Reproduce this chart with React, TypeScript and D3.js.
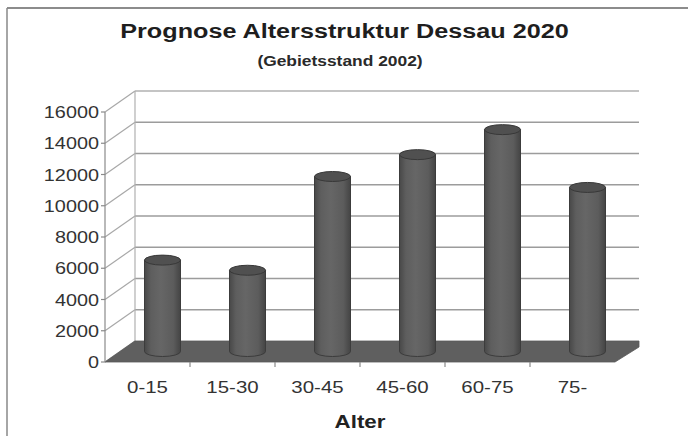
import React from "react";
import * as d3 from "d3";

const categories = ["0-15", "15-30", "30-45", "45-60", "60-75", "75-"];
const values = [5850, 5200, 11200, 12600, 14200, 10500];
const yTicks = [0, 2000, 4000, 6000, 8000, 10000, 12000, 14000, 16000];
const title = "Prognose Altersstruktur Dessau 2020";
const subtitle = "(Gebietsstand 2002)";
const xTitle = "Alter";

const SX = 1.24;
const FONT = "'Liberation Sans', Arial, sans-serif";

function SText(props: any) {
  const { x, y, anchor = "middle", size = 14, weight = "normal", fill = "#2a2a2a", sx = SX, children } = props;
  return (
    <text
      transform={`translate(${x},${y}) scale(${sx},1)`}
      textAnchor={anchor}
      fontSize={size}
      fontWeight={weight}
      fontFamily={FONT}
      fill={fill}
    >
      {children}
    </text>
  );
}

export default function App() {
  const W = 688;
  const H = 436;
  const DX = 30;
  const DY = -21;
  const x = d3.scaleBand<string>().domain(categories).range([105, 615]).padding(0);
  const y = d3.scaleLinear().domain([0, 16000]).range([362, 112]);
  const backRight = 639;
  const r = 18;
  const ry = 5;

  const floor = [
    [x.range()[0], y(0)],
    [x.range()[0] + DX, y(0) + DY],
    [backRight, y(0) + DY],
    [backRight, y(0) + DY + 6],
    [x.range()[1], y(0)],
  ];

  return (
    <svg width={W} height={H} style={{ position: "absolute", left: 0, top: 0, background: "#fff" }}>
      <defs>
        <linearGradient id="cyl" x1="0" x2="1" y1="0" y2="0">
          <stop offset="0%" stopColor="#484848" />
          <stop offset="18%" stopColor="#5e5e5e" />
          <stop offset="45%" stopColor="#666" />
          <stop offset="80%" stopColor="#5c5c5c" />
          <stop offset="100%" stopColor="#444" />
        </linearGradient>
      </defs>
      {/* frame */}
      <line x1={7} y1={8} x2={W} y2={8} stroke="#666" strokeWidth={1.5} />
      <line x1={7} y1={8} x2={7} y2={H} stroke="#888" strokeWidth={1.5} />

      <SText x={344.5} y={38} size={21} weight="bold" fill="#1e1e1e" sx={1.2}>{title}</SText>
      <SText x={340} y={65.5} size={14.5} weight="bold" fill="#2a2a2a" sx={1.2}>{subtitle}</SText>

      {/* back wall gridlines */}
      {yTicks.filter((t) => t > 0).map((t) => (
        <line key={"g" + t} x1={x.range()[0] + DX} x2={backRight} y1={y(t) + DY} y2={y(t) + DY}
          stroke={t === 16000 ? "#c4c4c4" : "#9c9c9c"} strokeWidth={t === 16000 ? 2 : 1.6} />
      ))}
      {/* side wall lines */}
      {yTicks.map((t) => (
        <line key={"s" + t} x1={x.range()[0]} y1={y(t)} x2={x.range()[0] + DX} y2={y(t) + DY}
          stroke="#a8a8a8" strokeWidth={1.2} />
      ))}
      <line x1={x.range()[0] + DX} x2={x.range()[0] + DX} y1={y(16000) + DY} y2={y(0) + DY} stroke="#b0b0b0" strokeWidth={1.2} />

      {/* floor */}
      <polygon points={floor.map((p) => p.join(",")).join(" ")} fill="#5f5f5f" stroke="#585858" strokeWidth={0.8} />

      {/* bars */}
      {categories.map((c, i) => {
        const cx = (x(c) as number) + x.bandwidth() / 2 + DX / 2;
        const yb = y(0) + DY / 2;
        const yt = y(values[i]) + DY / 2;
        const d = `M${cx - r},${yt} L${cx - r},${yb} A${r},${ry} 0 0 0 ${cx + r},${yb} L${cx + r},${yt} Z`;
        return (
          <g key={c}>
            <path d={d} fill="url(#cyl)" stroke="#3c3c3c" strokeWidth={1} />
            <ellipse cx={cx} cy={yt} rx={r} ry={ry} fill="#505050" stroke="#383838" strokeWidth={1} />
          </g>
        );
      })}

      {/* front y axis */}
      <line x1={x.range()[0]} x2={x.range()[0]} y1={y(0)} y2={y(16000)} stroke="#8a8a8a" strokeWidth={1.2} />
      {yTicks.map((t) => (
        <g key={"yt" + t}>
          <line x1={x.range()[0] - 4} x2={x.range()[0]} y1={y(t)} y2={y(t)} stroke="#8a8a8a" strokeWidth={1.2} />
          <SText x={99} y={y(t) + 6} anchor="end" size={16} fill="#333">{String(t)}</SText>
        </g>
      ))}
      {/* x axis ticks and labels */}
      {categories.slice(1).map((c) => (
        <line key={"xt" + c} x1={x(c) as number} x2={x(c) as number} y1={y(0)} y2={y(0) + 5} stroke="#8a8a8a" strokeWidth={1.2} />
      ))}
      {categories.map((c) => (
        <SText key={"xl" + c} x={(x(c) as number) + x.bandwidth() / 2} y={393} size={16.5} fill="#333">{c}</SText>
      ))}
      <SText x={360} y={428} size={18} weight="bold" fill="#222">{xTitle}</SText>
    </svg>
  );
}
